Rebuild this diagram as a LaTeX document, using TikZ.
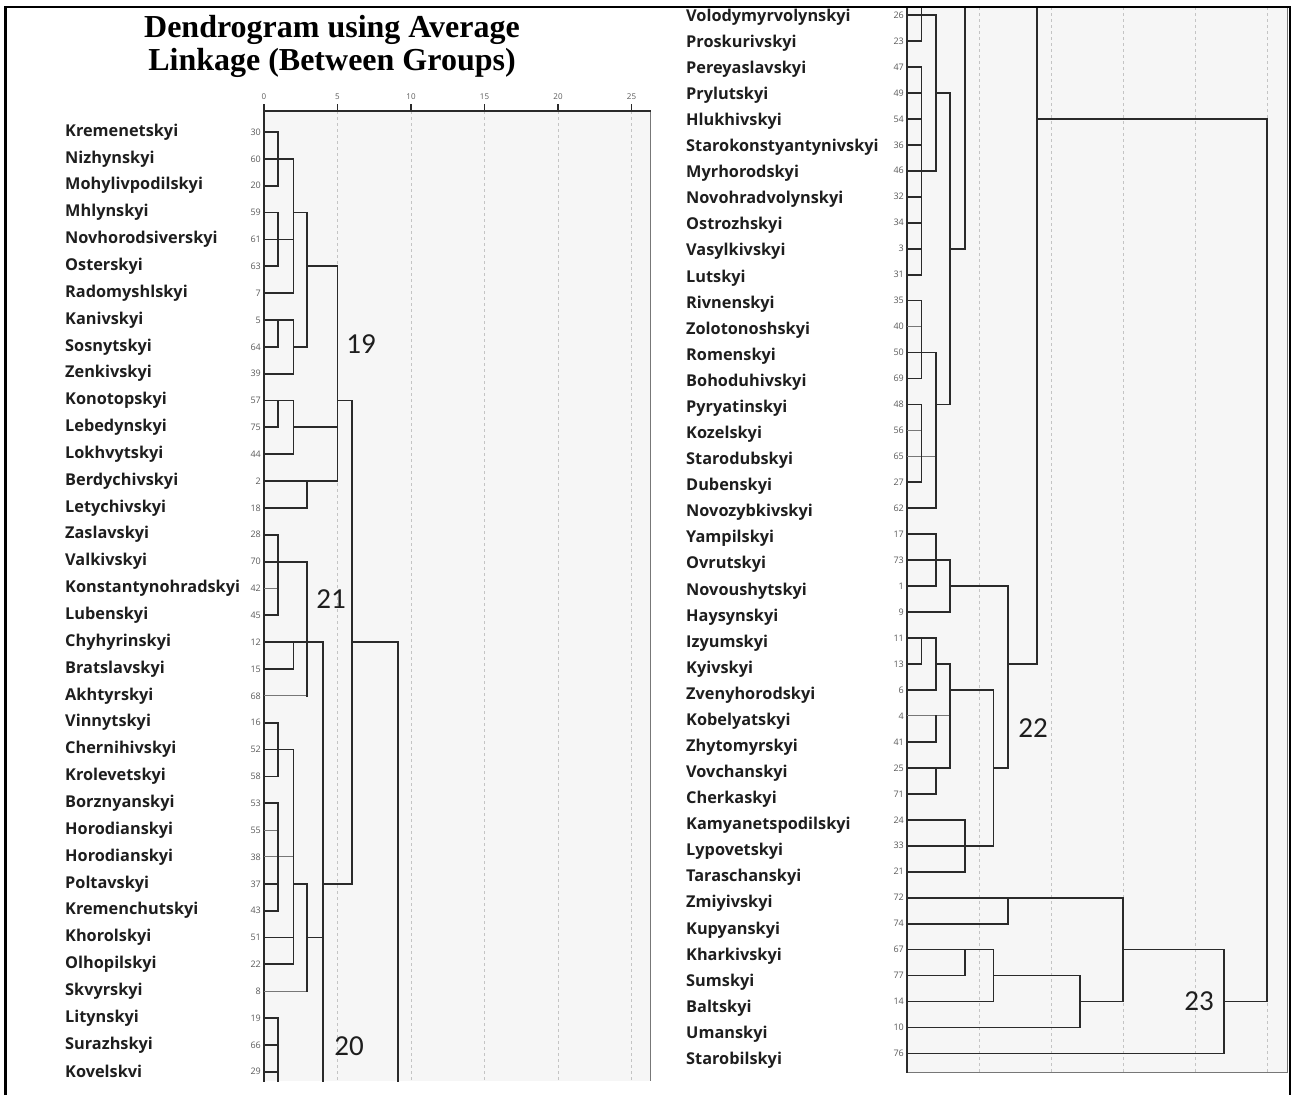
\documentclass[tikz,border=0pt]{standalone}
\usepackage{fontspec}
\setmainfont{Liberation Serif}
\newfontfamily\labfont{Open Sans}
\newfontfamily\clufont{Carlito}
\usepackage{tikz}
\usetikzlibrary{positioning}
\definecolor{labtext}{HTML}{1E1E1E}
\definecolor{numgray}{HTML}{5A5A5A}
\definecolor{treeline}{HTML}{2A2A2A}
\definecolor{thingray}{HTML}{777777}
\definecolor{gridgray}{HTML}{C4C4C4}
\definecolor{panelfill}{HTML}{F6F6F6}

\begin{document}
\begin{tikzpicture}[x=1pt, y=-1pt,
	lab/.style={font=\labfont\bfseries\fontsize{16.3}{16.3}\selectfont, text=labtext, anchor=west, inner sep=0pt},
	leafnum/.style={font=\labfont\fontsize{9}{9}\selectfont, text=numgray, anchor=east, inner sep=0pt},
	ticklab/.style={font=\labfont\fontsize{8}{8}\selectfont, text=numgray, inner sep=0pt},
	clu/.style={font=\clufont\fontsize{29}{29}\selectfont, text=labtext, inner sep=0pt},
	br/.style={draw=treeline, line width=1.8pt, line cap=rect},
	thinbr/.style={draw=thingray, line width=1pt},
	gridln/.style={draw=gridgray, line width=0.8pt, dash pattern=on 3pt off 3pt}]
			\useasboundingbox (0,0) rectangle (1292,1095);
			
			% panels
			\fill[panelfill] (264,111) rectangle (650,1081);
			\fill[panelfill] (907,7) rectangle (1287,1072);
			\foreach \u in {5,10,...,25} {
				\draw[gridln] ({264+\u*14.7},111) -- ({264+\u*14.7},1081);
				\draw[gridln] ({907+\u*14.4},7) -- ({907+\u*14.4},1072);
			}
			\draw[thinbr] (650,111) -- (650,1081);
			\draw[thinbr] (907,1072) -- (1287,1072) -- (1287,7);
			\draw[br] (264,1081) -- (264,111) -- (650,111);
			\draw[br] (907,7) -- (907,1072);
			\foreach \u in {0,5,...,25} {
				\draw[br, line width=1.1pt] ({264+\u*14.7},111) -- ({264+\u*14.7},105);
				\node[ticklab] (t\u) at ({264+\u*14.7},97) {\u};
			}
			
			% title
			\node[font=\bfseries\fontsize{32}{33}\selectfont, align=center] (title) at (332,46) {Dendrogram using Average\\Linkage (Between Groups)};
			
			% left labels
			\foreach \name/\id [count=\i] in {Kremenetskyi/30, Nizhynskyi/60, Mohylivpodilskyi/20, Mhlynskyi/59, Novhorodsiverskyi/61, Osterskyi/63, Radomyshlskyi/7, Kanivskyi/5, Sosnytskyi/64, Zenkivskyi/39, Konotopskyi/57, Lebedynskyi/75, Lokhvytskyi/44, Berdychivskyi/2, Letychivskyi/18, Zaslavskyi/28, Valkivskyi/70, Konstantynohradskyi/42, Lubenskyi/45, Chyhyrinskyi/12, Bratslavskyi/15, Akhtyrskyi/68, Vinnytskyi/16, Chernihivskyi/52, Krolevetskyi/58, Borznyanskyi/53, Horodianskyi/55, Horodianskyi/38, Poltavskyi/37, Kremenchutskyi/43, Khorolskyi/51, Olhopilskyi/22, Skvyrskyi/8, Litynskyi/19, Surazhskyi/66, Kovelskvi/29} {
				\node[lab] (L\i) at (65,{132+(\i-1)*26.85}) {\name};
				\node[leafnum] (LN\i) at (261,{132+(\i-1)*26.85}) {\id};
			}
			
			% right labels
			\foreach \name/\id [count=\i] in {Volodymyrvolynskyi/26, Proskurivskyi/23, Pereyaslavskyi/47, Prylutskyi/49, Hlukhivskyi/54, Starokonstyantynivskyi/36, Myrhorodskyi/46, Novohradvolynskyi/32, Ostrozhskyi/34, Vasylkivskyi/3, Lutskyi/31, Rivnenskyi/35, Zolotonoshskyi/40, Romenskyi/50, Bohoduhivskyi/69, Pyryatinskyi/48, Kozelskyi/56, Starodubskyi/65, Dubenskyi/27, Novozybkivskyi/62, Yampilskyi/17, Ovrutskyi/73, Novoushytskyi/1, Haysynskyi/9, Izyumskyi/11, Kyivskyi/13, Zvenyhorodskyi/6, Kobelyatskyi/4, Zhytomyrskyi/41, Vovchanskyi/25, Cherkaskyi/71, Kamyanetspodilskyi/24, Lypovetskyi/33, Taraschanskyi/21, Zmiyivskyi/72, Kupyanskyi/74, Kharkivskyi/67, Sumskyi/77, Baltskyi/14, Umanskyi/10, Starobilskyi/76} {
				\node[lab] (R\i) at (686,{17+(\i-1)*26.08}) {\name};
				\node[leafnum] (RN\i) at (904,{15+(\i-1)*25.96}) {\id};
			}
			
			% left tree (x in distance units, y in rows)
			\begin{scope}[shift={(264,105.15)}, x=14.7pt, y=-26.85pt]
				\foreach \rw/\ua/\ub in {1/0/0.95, 2/0/2, 3/0/0.95, 4/0/0.95, 4/2/2.95, 5/0/2, 6/0/0.95, 6/2.95/5, 7/0/2, 8/0/2, 9/0/0.95, 9/2/2.95, 10/0/2, 11/0/2, 11/5/6, 12/0/0.95, 12/2/5, 13/0/2, 14/0/5, 15/0/2.95, 16/0/0.95, 17/0/2.95, 19/0/0.95, 20/0/4, 20/6/9.1, 21/0/2, 23/0/0.95, 24/0/2, 25/0/0.95, 26/0/0.95, 29/0/0.95, 29/2/2.95, 29/4/6, 30/0/0.95, 31/0/2, 31/2.95/4, 32/0/2, 34/0/0.95, 35/0/0.95, 36/0/0.95}
					\draw[br] (\ua,\rw) -- (\ub,\rw);
				\foreach \rw/\ua/\ub in {18/0/0.95, 22/0/2.95, 27/0/0.95, 28/0/2, 33/0/2.95}
					\draw[thinbr] (\ua,\rw) -- (\ub,\rw);
				\foreach \u/\ra/\rb in {0.95/1/3, 0.95/4/6, 0.95/8/9, 0.95/11/12, 0.95/16/19, 0.95/23/25, 0.95/26/30, 0.95/34/36.35, 2/2/7, 2/8/10, 2/11/13, 2/20/21, 2/24/32, 2.95/4/9, 2.95/14/15, 2.95/17/22, 2.95/29/33, 4/20/36.35, 5/6/14, 6/11/29, 9.1/20/36.35}
					\draw[br] (\u,\ra) -- (\u,\rb);
			\end{scope}
			
			% right tree
			\begin{scope}[shift={(907,-10.96)}, x=14.4pt, y=-25.96pt]
				\foreach \rw/\ua/\ub in {1/0/2, 2/0/1, 3/0/1, 4/0/1, 4/2/3, 5/0/1, 5/9/25, 6/0/1, 7/0/2, 8/0/1, 9/0/1, 10/0/1, 10/3/4, 11/0/1, 12/0/1, 14/0/2, 15/0/1, 16/0/1, 16/2/3, 19/0/1, 20/0/2, 21/0/2, 22/0/3, 23/0/2, 23/3/7, 24/0/3, 25/0/2, 26/0/1, 26/2/3, 26/7/9, 27/0/2, 27/3/6, 29/0/2, 30/0/3, 30/6/7, 31/0/2, 32/0/4, 33/0/6, 34/0/4, 35/0/15, 36/0/7, 37/0/6, 37/15/22, 38/0/4, 38/6/12, 39/0/6, 39/12/15, 39/22/25, 40/0/12, 41/0/22}
					\draw[br] (\ua,\rw) -- (\ub,\rw);
				\foreach \rw/\ua/\ub in {13/0/1, 17/0/1, 18/0/2, 28/0/3}
					\draw[thinbr] (\ua,\rw) -- (\ub,\rw);
				\foreach \u/\ra/\rb in {1/0.75/2, 1/3/11, 1/12/15, 1/16/19, 1/25/26, 2/1/7, 2/14/20, 2/21/23, 2/25/27, 2/28/29, 2/30/31, 3/4/16, 3/22/24, 3/26/30, 4/0.75/10, 4/32/34, 4/37/38, 6/27/33, 6/37/39, 7/23/30, 7/35/36, 9/0.75/26, 12/38/40, 15/35/39, 22/37/41, 25/5/39}
					\draw[br] (\u,\ra) -- (\u,\rb);
			\end{scope}
			
			% cluster numbers
			\node[clu] (c19) at (361,344) {19};
			\node[clu] (c21) at (331,599) {21};
			\node[clu] (c20) at (349,1046) {20};
			\node[clu] (c22) at (1033,728) {22};
			\node[clu] (c23) at (1199,1001) {23};
			
			% outer border
			\draw[line width=2.5pt] (5.5,1095) -- (5.5,7) -- (1290,7) -- (1290,1095);
		\end{tikzpicture}
\end{document}
